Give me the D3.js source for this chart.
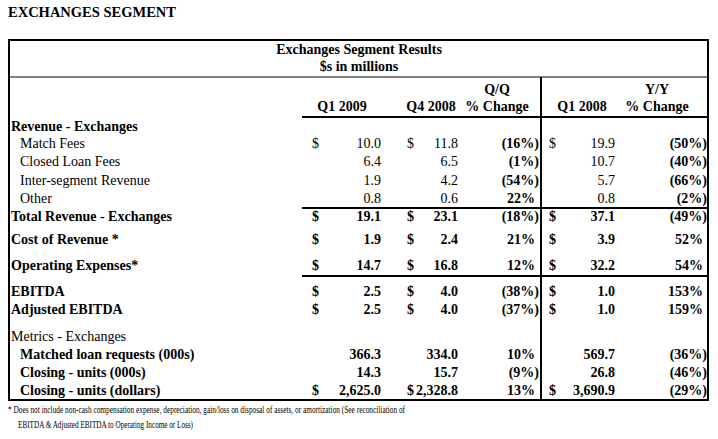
<!DOCTYPE html>
<html><head><meta charset="utf-8">
<script src="https://cdn.jsdelivr.net/npm/d3@7"></script>
<style>body{margin:0;background:#fff}text{font-family:"Liberation Serif","Times New Roman",serif;fill:#000}</style>
</head><body><svg id="c" width="718" height="439"></svg>
<script>
const columns = ["Q1 2009","Q4 2008","Q/Q % Change","Q1 2008","Y/Y % Change"];
const rowLabels = ["Revenue - Exchanges","Match Fees","Closed Loan Fees","Inter-segment Revenue","Other","Total Revenue - Exchanges","Cost of Revenue *","Operating Expenses*","EBITDA","Adjusted EBITDA","Metrics - Exchanges","Matched loan requests (000s)","Closing - units (000s)","Closing - units (dollars)"];
const q12009 = [null,"10.0","6.4","1.9","0.8","19.1","1.9","14.7","2.5","2.5",null,"366.3","14.3","2,625.0"];
const q42008 = [null,"11.8","6.5","4.2","0.6","23.1","2.4","16.8","4.0","4.0",null,"334.0","15.7","2,328.8"];
const qqChange = [null,"(16%)","(1%)","(54%)","22%","(18%)","21%","12%","(38%)","(37%)",null,"10%","(9%)","13%"];
const q12008 = [null,"19.9","10.7","5.7","0.8","37.1","3.9","32.2","1.0","1.0",null,"569.7","26.8","3,690.9"];
const yyChange = [null,"(50%)","(40%)","(66%)","(2%)","(49%)","52%","54%","153%","159%",null,"(36%)","(46%)","(29%)"];
const dollarRows = [1,5,6,7,8,9,13];
const boldRows = [0,5,6,7,8,9,11,12,13];
const indentRows = [1,2,3,4,11,12,13];
const rowY = [127,144,162,181,199,217,240,266,292,310,337,355,373,391];

const svg = d3.select("#c");
const y = d3.scaleOrdinal().domain(d3.range(rowLabels.length)).range(rowY);
const x = d3.scaleOrdinal().domain(["d1","v1","d2","v2","qq","d3","v3","yy"]).range([312,381,407,458,537,549,615,705]);
const FS=14;
svg.append("text").attr("x",8).attr("y",17).attr("font-size",14.5).attr("font-weight","bold").text("EXCHANGES SEGMENT");
const L=9,R=708,T=40,B=400;
svg.append("rect").attr("x",L).attr("y",T).attr("width",R-L).attr("height",B-T).attr("fill","none").attr("stroke","#000").attr("stroke-width",2);
svg.append("text").attr("x",359).attr("y",54).attr("text-anchor","middle").attr("font-size",FS).attr("font-weight","bold").text("Exchanges Segment Results");
svg.append("text").attr("x",359).attr("y",71).attr("text-anchor","middle").attr("font-size",FS).attr("font-weight","bold").text("$s in millions");
const line=(x1,x2,yy,w)=>svg.append("line").attr("x1",x1).attr("x2",x2).attr("y1",yy).attr("y2",yy).attr("stroke","#000").attr("stroke-width",w);
line(L,R,77,1.2);
line(302,R,117,2);
line(302,R,208,2);
line(302,R,276,2);
svg.append("line").attr("x1",541).attr("x2",541).attr("y1",77).attr("y2",B).attr("stroke","#000").attr("stroke-width",2);

const hdr=[[342,null,"Q1 2009"],[431,null,"Q4 2008"],[497,"Q/Q","% Change"],[582,null,"Q1 2008"],[657,"Y/Y","% Change"]];
hdr.forEach((h,i)=>{
  if(h[1]) svg.append("text").attr("x",h[0]).attr("y",94).attr("text-anchor","middle").attr("font-size",FS).attr("font-weight","bold").text(h[1]);
  svg.append("text").attr("x",h[0]).attr("y",111).attr("text-anchor","middle").attr("font-size",FS).attr("font-weight","bold").text(i===2||i===4?h[2]:columns[i]);
});

rowLabels.forEach((lab,i)=>{
  const b = boldRows.includes(i)?"bold":"normal";
  const yy=y(i)+4;
  const t=(xx,s,anchor,w)=>{ if(s==null)return; svg.append("text").attr("x",xx).attr("y",yy).attr("font-size",FS).attr("font-weight",w||b).attr("text-anchor",anchor).text(s);};
  t(indentRows.includes(i)?20:11,lab,"start");
  if(dollarRows.includes(i)){ t(x("d1"),"$","start"); t(x("d2"),"$","start"); t(x("d3"),"$","start"); }
  t(x("v1"),q12009[i],"end"); t(x("v2"),q42008[i],"end");
  const adj=s=>s&&s.endsWith(")")?4:0;
  if(qqChange[i]) t(x("qq")+adj(qqChange[i])-2,qqChange[i],"end","bold");
  t(x("v3"),q12008[i],"end");
  if(yyChange[i]) t(x("yy")+adj(yyChange[i])-2,yyChange[i],"end","bold");
});
svg.append("text").attr("x",8).attr("y",413).attr("font-size",10.5).attr("textLength",397).attr("lengthAdjust","spacingAndGlyphs").text("* Does not include non-cash compensation expense, depreciation, gain/loss on disposal of assets, or amortization (See reconciliation of");
svg.append("text").attr("x",18).attr("y",428).attr("font-size",10.5).attr("textLength",175).attr("lengthAdjust","spacingAndGlyphs").text("EBITDA & Adjusted EBITDA to Operating Income or Loss)");
</script></body></html>
